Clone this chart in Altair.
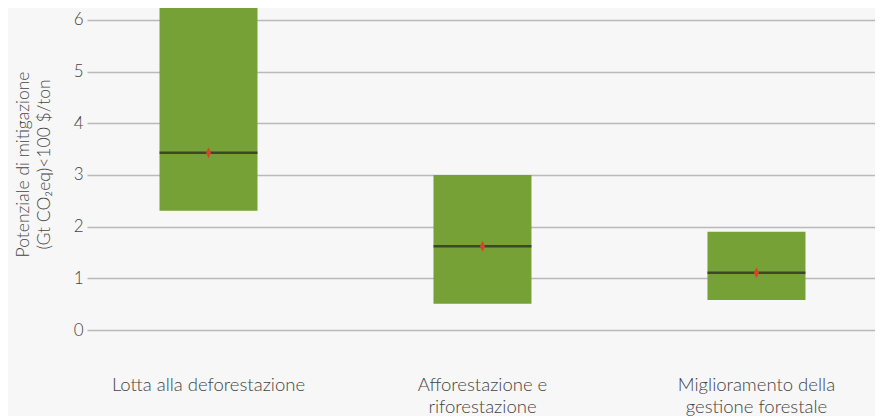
import altair as alt
import pandas as pd

categories = ["Lotta alla deforestazione", "Afforestazione e\nriforestazione", "Miglioramento della\ngestione forestale"]
low = [2.31, 0.51, 0.58]
high = [6.4, 3.0, 1.9]
median = [3.43, 1.62, 1.11]
y_ticks = [0, 1, 2, 3, 4, 5, 6]

df = pd.DataFrame({
    "pos": list(range(len(categories))),
    "cat": categories,
    "low": low,
    "high": high,
    "median": median,
})

FONT = "Lato"
W, H = 788, 322
xscale = alt.Scale(domain=[-0.4252, 2.4144], nice=False, zero=False)
yscale = alt.Scale(domain=[0, 6.232], nice=False, zero=True)

base = alt.Chart(df)

bars = base.mark_bar(color="#76a136", size=98, clip=True).encode(
    x=alt.X("pos:Q", scale=xscale, axis=None),
    y=alt.Y("low:Q", scale=yscale, axis=alt.Axis(
        values=y_ticks, format="d", grid=True, domain=False, ticks=False, labelPadding=4,
        gridColor="#b9b9b9", gridWidth=1.5, labelFont=FONT, labelFontSize=17,
        labelFontWeight=300, labelColor="#444444",
        title=["Potenziale di mitigazione", "(Gt CO₂eq)<100 $/ton"],
        titleFont=FONT, titleFontSize=17.5, titleFontWeight=300, titleColor="#444444",
        titlePadding=20, titleLineHeight=21, titleY=156)),
    y2="high:Q",
)

med_line = base.mark_tick(orient="horizontal", size=98, thickness=2.5, color="#222222").encode(
    x=alt.X("pos:Q", scale=xscale),
    y=alt.Y("median:Q", scale=yscale),
)

med_pt = base.mark_point(
    shape="M0,-1L0.45,0L0,1L-0.45,0Z", size=121, filled=True, color="#d9432c", opacity=1
).encode(
    x=alt.X("pos:Q", scale=xscale),
    y=alt.Y("median:Q", scale=yscale),
)

labels = base.mark_text(
    font=FONT, fontSize=18.5, fontWeight=300, color="#444444", align="center",
    baseline="alphabetic", lineBreak="\n", lineHeight=22,
).encode(
    x=alt.X("pos:Q", scale=xscale),
    y=alt.value(383),
    text="cat:N",
)

chart = alt.layer(bars, med_line, med_pt, labels).properties(
    width=W, height=H,
    autosize=alt.AutoSizeParams(type="none"),
    padding={"left": 79, "top": 0, "right": 0, "bottom": 86},
    background="#f7f7f7",
).configure_view(stroke=None)

chart.save("out.html", embed_options={"renderer": "svg", "actions": False})
